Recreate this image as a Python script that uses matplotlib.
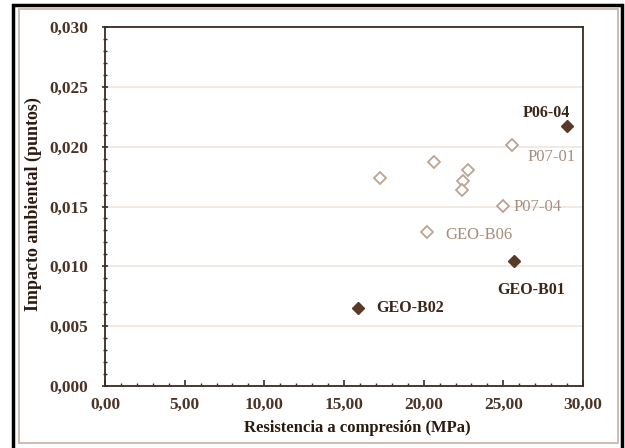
import matplotlib
matplotlib.use("Agg")
import matplotlib.pyplot as plt
from matplotlib.patches import Rectangle
from matplotlib.ticker import MultipleLocator, FuncFormatter

# resistencia (MPa) e impacto (puntos)
x_open = [25.57, 20.65, 17.26, 22.77, 22.49, 22.43, 25.0, 20.21]
y_open = [0.0201, 0.01868, 0.01742, 0.01806, 0.01713, 0.01638, 0.01506, 0.01289]

x_fill = [28.98, 25.65, 15.86]
y_fill = [0.02169, 0.01042, 0.00655]

labels_fill = ["P06-04", "GEO-B01", "GEO-B02"]
labels_open = ["P07-01", "P07-04", "GEO-B06"]
open_idx = [0, 6, 7]

dark = "#5a3a26"
light_edge = "#bba396"
light_txt = "#a68d7e"
txt_dark = "#3c2618"
spine_c = "#3a2b22"

plt.rcParams['font.family'] = ['Liberation Serif', 'DejaVu Serif']

fig = plt.figure(figsize=(6.25, 4.48), dpi=100)
ax = fig.add_axes([105/625, 62/448, 478/625, 359/448])

ax.plot(x_open, y_open, ls='none', marker='D', ms=5.8, mfc='white',
        mec=light_edge, mew=1.3, zorder=3)
ax.plot(x_fill, y_fill, ls='none', marker='D', ms=6.2, mfc=dark,
        mec=dark, zorder=3)

fill_offsets = [(-15, 10, 'center'), (12.5, -21, 'center'), (13, 0, 'left')]
for lab, xx, yy, (dx, dy, ha) in zip(labels_fill, x_fill, y_fill, fill_offsets):
    ax.annotate(lab, (xx, yy), xytext=(dx, dy), textcoords='offset points',
                ha=ha, va='center', fontsize=11.5, fontweight='bold', color=txt_dark)

open_offsets = [(11, -8), (7, -1), (13, -2)]
for lab, i, (dx, dy) in zip(labels_open, open_idx, open_offsets):
    ax.annotate(lab, (x_open[i], y_open[i]), xytext=(dx, dy), textcoords='offset points',
                ha='left', va='center', fontsize=12, color=light_txt)

ax.set_xlim(0, 30)
ax.set_ylim(0, 0.030)
ax.xaxis.set_major_locator(MultipleLocator(5))
ax.xaxis.set_minor_locator(MultipleLocator(1))
ax.yaxis.set_major_locator(MultipleLocator(0.005))
ax.yaxis.set_minor_locator(MultipleLocator(0.001))
ax.xaxis.set_major_formatter(FuncFormatter(lambda v, p: f"{v:.2f}".replace('.', ',')))
ax.yaxis.set_major_formatter(FuncFormatter(lambda v, p: f"{v:.3f}".replace('.', ',')))

ax.grid(axis='y', which='major', color='#efe5de', lw=1.2)
ax.set_axisbelow(True)

for s in ax.spines.values():
    s.set_color(spine_c)
    s.set_linewidth(1.3)

ax.tick_params(axis='x', which='major', direction='in', length=4, width=1.2,
               color=spine_c, pad=8, labelsize=12.5, labelcolor='#4b3426')
ax.tick_params(axis='x', which='minor', direction='in', length=2.5, width=1, color=spine_c)
ax.tick_params(axis='y', which='major', direction='inout', length=4.5, width=1.2,
               color=spine_c, pad=10, labelsize=12.5, labelcolor='#4b3426')
ax.tick_params(axis='y', which='minor', direction='inout', length=3.5, width=1, color=spine_c)
for t in ax.get_xticklabels() + ax.get_yticklabels():
    t.set_fontweight('bold')

# titulos de ejes
fig.text(357/625, 1 - 428/448, "Resistencia a compresión (MPa)", ha='center', va='center',
         fontsize=12, fontweight='bold', color='#2a1a10')
fig.text(33/625, 1 - 204/448, "Impacto ambiental (puntos)", ha='center', va='center',
         rotation=90, fontsize=13, fontweight='bold', color='#2a1a10')

# marcos exteriores
fig.patches.append(Rectangle((19/625, 5/448), 599/625, 434/448, transform=fig.transFigure,
                             fill=False, ec='#c8b6ab', lw=1.3))
fig.patches.append(Rectangle((13/625, -5/448), 609/625, 448/448, transform=fig.transFigure,
                             fill=False, ec='black', lw=2.5))

fig.savefig("out.png", dpi=100)
